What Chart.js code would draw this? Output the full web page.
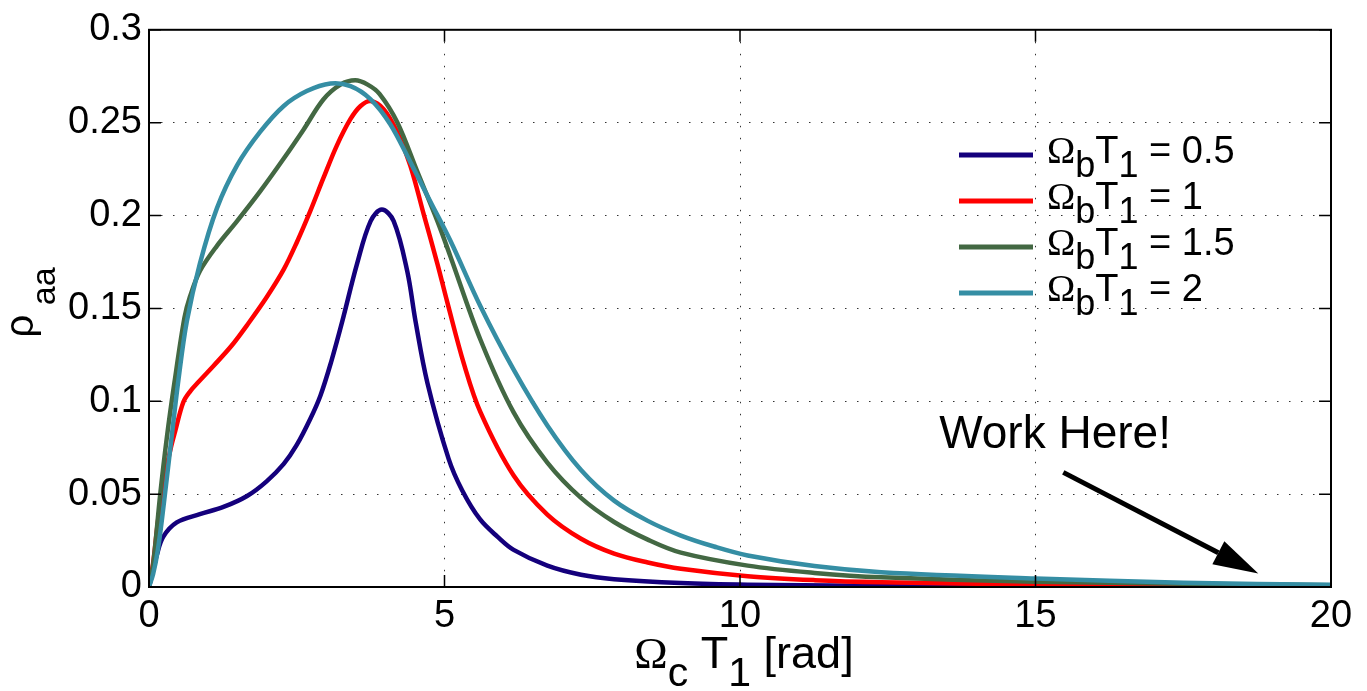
<!DOCTYPE html>
<html>
<head>
<meta charset="utf-8">
<title>rho_aa vs coupling Rabi frequency</title>
<script src="https://cdn.jsdelivr.net/npm/chart.js@4.4.1/dist/chart.umd.min.js"></script>
<style>
  html, body { margin: 0; padding: 0; background: #fff; }
  #wrap { width: 1367px; height: 691px; }
</style>
</head>
<body>
<div id="wrap"><canvas id="rho"></canvas></div>
<script>
// population of |a> against Omega_c T1, one curve per probe strength Omega_b T1
const seriesNames = ['Ω_{b}T_{1} = 0.5', 'Ω_{b}T_{1} = 1', 'Ω_{b}T_{1} = 1.5', 'Ω_{b}T_{1} = 2'];
const seriesColors = ['#14007c', '#ff0000', '#436843', '#358ea4'];

const x05 = [0, 0.07, 0.13, 0.24, 0.47, 0.86, 1.26, 1.66, 1.99, 2.28, 2.5, 2.73, 2.9, 3.08, 3.27, 3.52, 3.75, 3.94, 4.14, 4.37, 4.51, 4.71, 5.07, 5.3, 5.6, 5.9, 6.17, 6.74, 7.31, 7.87, 9.0, 10.13, 12, 15, 20];
const y05 = [0, 0.009, 0.017, 0.027, 0.0348, 0.0392, 0.0431, 0.049, 0.0569, 0.0663, 0.0765, 0.0906, 0.103, 0.121, 0.143, 0.174, 0.197, 0.2032, 0.197, 0.170, 0.143, 0.110, 0.069, 0.052, 0.0365, 0.027, 0.020, 0.0115, 0.0066, 0.0042, 0.0021, 0.0012, 0.0007, 0.0004, 0.0002];

const x10 = [0, 0.07, 0.15, 0.25, 0.37, 0.44, 0.58, 0.7, 0.84, 1.09, 1.4, 1.66, 1.99, 2.28, 2.5, 2.73, 2.95, 3.18, 3.41, 3.58, 3.75, 3.97, 4.2, 4.42, 4.65, 4.88, 5.05, 5.33, 5.61, 6.17, 6.74, 7.31, 7.87, 8.44, 9.0, 10.13, 11.26, 12.39, 15, 20];
const y10 = [0, 0.013, 0.035, 0.057, 0.075, 0.0835, 0.0995, 0.1055, 0.1105, 0.119, 0.130, 0.141, 0.156, 0.171, 0.1855, 0.2025, 0.2201, 0.2378, 0.252, 0.259, 0.2617, 0.2573, 0.245, 0.2271, 0.2005, 0.174, 0.153, 0.12, 0.094, 0.060, 0.039, 0.026, 0.018, 0.0132, 0.0098, 0.0058, 0.0037, 0.0026, 0.0013, 0.0005];

const x15 = [0, 0.07, 0.19, 0.3, 0.43, 0.6, 0.69, 0.86, 1.15, 1.49, 1.88, 2.28, 2.62, 2.95, 3.24, 3.49, 3.7, 3.9, 4.2, 4.54, 4.88, 5.1, 5.61, 6.17, 6.74, 7.31, 7.87, 8.44, 9.0, 10.13, 11.26, 12.39, 15, 20];
const y15 = [0, 0.012, 0.05, 0.08, 0.11, 0.145, 0.156, 0.170, 0.1837, 0.197, 0.213, 0.2307, 0.2465, 0.2625, 0.2705, 0.2728, 0.2705, 0.2655, 0.2502, 0.2236, 0.197, 0.178, 0.133, 0.094, 0.067, 0.048, 0.035, 0.0255, 0.0185, 0.0115, 0.0076, 0.0052, 0.0028, 0.001];

const x20 = [0, 0.07, 0.15, 0.24, 0.38, 0.5, 0.64, 0.86, 1.15, 1.49, 1.88, 2.28, 2.67, 3.07, 3.41, 3.75, 4.08, 4.42, 4.76, 5.1, 5.61, 6.17, 6.74, 7.31, 7.87, 8.44, 9.0, 9.56, 10.13, 11.26, 12.39, 15, 17.5, 20];
const y20 = [0, 0.007, 0.02, 0.042, 0.08, 0.112, 0.143, 0.174, 0.204, 0.227, 0.245, 0.259, 0.267, 0.2711, 0.2697, 0.2626, 0.2493, 0.2289, 0.2076, 0.1864, 0.151, 0.117, 0.087, 0.063, 0.0465, 0.0356, 0.0277, 0.0218, 0.0170, 0.0113, 0.0080, 0.0046, 0.0023, 0.0012];

const xTicks = [0, 5, 10, 15, 20];
const xTickLabels = ['0', '5', '10', '15', '20'];
const yTicks = [0, 0.05, 0.1, 0.15, 0.2, 0.25, 0.3];
const yTickLabels = ['0', '0.05', '0.1', '0.15', '0.2', '0.25', '0.3'];

const xTitle = 'Ω_{c} T_{1} [rad]';
const yTitle = 'ρ_{ aa}';

// "Work Here!" note and its arrow, in axis units
const noteText = 'Work Here!';
const noteAt = [13.37, 0.0746];
const arrowFrom = [15.47, 0.0617];
const arrowTo = [18.77, 0.0073];

const seriesX = [x05, x10, x15, x20];
const seriesY = [y05, y10, y15, y20];

const SANS = '"Liberation Sans", Arial, Helvetica, sans-serif';
const SERIF = '"Liberation Serif", "Times New Roman", serif';

// split 'Ω_{b}T_{1}' style strings into runs; Ω is set in a serif face
function runs(str) {
  const out = [];
  str.split(/(_\{[^}]*\})/).forEach(part => {
    if (!part) return;
    const sub = part.startsWith('_{');
    const t = sub ? part.slice(2, -1) : part;
    t.split(/(Ω)/).forEach(s => { if (s) out.push({ t: s, sub: sub, serif: s === 'Ω' }); });
  });
  return out;
}

function richText(ctx, str, x, y, o) {
  const parts = runs(str);
  const fontOf = p => (p.sub ? o.subSize : o.size) + 'px ' + (p.serif ? SERIF : SANS);
  let w = 0;
  parts.forEach(p => { ctx.font = fontOf(p); p.w = ctx.measureText(p.t).width; w += p.w; });
  let cx = o.align === 'center' ? x - w / 2 : x;
  ctx.textAlign = 'left';
  ctx.textBaseline = 'alphabetic';
  parts.forEach(p => {
    ctx.font = fontOf(p);
    ctx.fillText(p.t, cx, y + (p.sub ? o.subShift : 0));
    cx += p.w;
  });
}

const frame = {
  id: 'frame',
  afterDraw(chart) {
    const ctx = chart.ctx;
    const a = chart.chartArea;
    const sx = chart.scales.x, sy = chart.scales.y;
    ctx.save();
    ctx.fillStyle = '#000';
    ctx.strokeStyle = '#000';

    // box
    ctx.lineWidth = 2;
    ctx.strokeRect(a.left, a.top, a.right - a.left, a.bottom - a.top);

    // inward ticks on all four sides
    ctx.lineWidth = 1.5;
    const tl = 12;
    ctx.beginPath();
    xTicks.forEach(v => {
      const px = sx.getPixelForValue(v);
      ctx.moveTo(px, a.bottom); ctx.lineTo(px, a.bottom - tl);
      ctx.moveTo(px, a.top); ctx.lineTo(px, a.top + tl);
    });
    yTicks.forEach(v => {
      const py = sy.getPixelForValue(v);
      ctx.moveTo(a.left, py); ctx.lineTo(a.left + tl, py);
      ctx.moveTo(a.right, py); ctx.lineTo(a.right - tl, py);
    });
    ctx.stroke();

    // legend, no box
    const lg = { x: 959, y: 155, len: 74, gap: 14, row: 46 };
    chart.data.datasets.forEach((ds, i) => {
      const ly = lg.y + i * lg.row;
      ctx.strokeStyle = ds.borderColor;
      ctx.lineWidth = 5;
      ctx.beginPath();
      ctx.moveTo(lg.x, ly); ctx.lineTo(lg.x + lg.len, ly);
      ctx.stroke();
      ctx.fillStyle = '#000';
      richText(ctx, seriesNames[i], lg.x + lg.len + lg.gap, ly + 8, { size: 38, subSize: 36, subShift: 14 });
    });

    // axis titles
    richText(ctx, xTitle, (a.left + a.right) / 2 + 4, 668, { size: 45, subSize: 41, subShift: 18, align: 'center' });
    ctx.save();
    ctx.translate(33, (a.top + a.bottom) / 2 - 6);
    ctx.rotate(-Math.PI / 2);
    richText(ctx, yTitle, 0, 0, { size: 40, subSize: 34, subShift: 22, align: 'center' });
    ctx.restore();

    // note with arrow
    ctx.font = '46px ' + SANS;
    ctx.textAlign = 'left';
    ctx.textBaseline = 'alphabetic';
    ctx.fillText(noteText, sx.getPixelForValue(noteAt[0]), sy.getPixelForValue(noteAt[1]));

    const x0 = sx.getPixelForValue(arrowFrom[0]), y0 = sy.getPixelForValue(arrowFrom[1]);
    const x1 = sx.getPixelForValue(arrowTo[0]), y1 = sy.getPixelForValue(arrowTo[1]);
    const ang = Math.atan2(y1 - y0, x1 - x0);
    const hl = 45, hw = 13;
    const bx = x1 - hl * Math.cos(ang), by = y1 - hl * Math.sin(ang);
    ctx.strokeStyle = '#000';
    ctx.lineWidth = 5;
    ctx.beginPath();
    ctx.moveTo(x0, y0); ctx.lineTo(bx, by);
    ctx.stroke();
    ctx.beginPath();
    ctx.moveTo(x1, y1);
    ctx.lineTo(bx + hw * Math.sin(ang), by - hw * Math.cos(ang));
    ctx.lineTo(bx - hw * Math.sin(ang), by + hw * Math.cos(ang));
    ctx.closePath();
    ctx.fill();
    ctx.restore();
  }
};

const hideEdge = (lo, hi) => c => (c.tick && (c.tick.value === lo || c.tick.value === hi)) ? 'rgba(0,0,0,0)' : '#333';

new Chart(document.getElementById('rho'), {
  type: 'scatter',
  data: {
    datasets: seriesNames.map((name, i) => ({
      label: name.replace(/[_{}]/g, ''),
      data: seriesX[i].map((x, j) => ({ x: x, y: seriesY[i][j] })),
      showLine: true,
      borderColor: seriesColors[i],
      backgroundColor: seriesColors[i],
      borderWidth: 4.5,
      borderJoinStyle: 'round',
      pointRadius: 0,
      tension: 0.35,
      order: seriesNames.length - i
    }))
  },
  options: {
    responsive: true,
    maintainAspectRatio: false,
    animation: false,
    layout: { padding: { top: 23, right: 36, left: 0, bottom: 0 } },
    plugins: { legend: { display: false }, tooltip: { enabled: false } },
    scales: {
      x: {
        type: 'linear', min: 0, max: 20,
        afterBuildTicks: sc => { sc.ticks = xTicks.map(v => ({ value: v })); },
        afterFit: sc => { sc.height = 104; },
        ticks: {
          callback: (v, i) => xTickLabels[i],
          font: { family: SANS, size: 38 }, color: '#000',
          padding: 7, maxRotation: 0, autoSkip: false
        },
        grid: { color: hideEdge(0, 20), lineWidth: 1, drawTicks: false },
        border: { display: false, dash: [1.5, 10.5] }
      },
      y: {
        type: 'linear', min: 0, max: 0.3,
        afterBuildTicks: sc => { sc.ticks = yTicks.map(v => ({ value: v })); },
        afterFit: sc => { sc.width = 149; },
        ticks: {
          callback: (v, i) => yTickLabels[i],
          font: { family: SANS, size: 38 }, color: '#000',
          padding: 7, autoSkip: false
        },
        grid: { color: hideEdge(0, 0.3), lineWidth: 1, drawTicks: false },
        border: { display: false, dash: [1.5, 10.5] }
      }
    }
  },
  plugins: [frame]
});
</script>
</body>
</html>
